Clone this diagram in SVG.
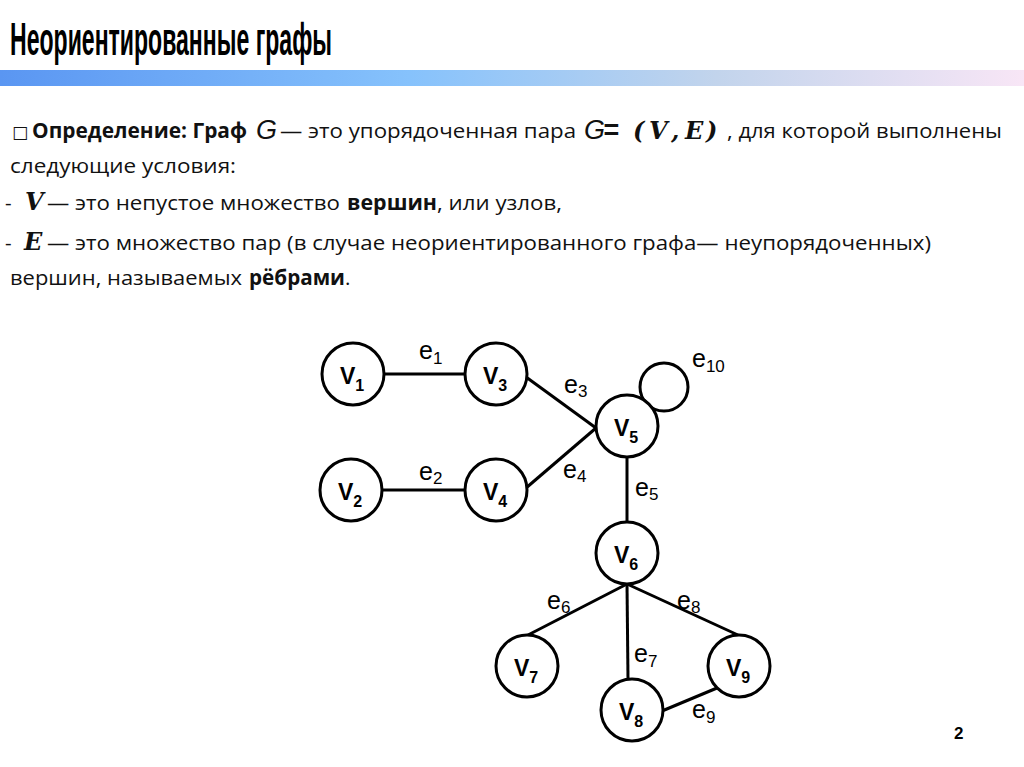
<svg xmlns="http://www.w3.org/2000/svg" width="1024" height="767" viewBox="0 0 1024 767">
<defs>
<linearGradient id="bar" x1="0" y1="0" x2="1" y2="0">
<stop offset="0" stop-color="#5a96f2"/>
<stop offset="0.4" stop-color="#86c2fc"/>
<stop offset="0.7" stop-color="#c2d4ec"/>
<stop offset="1" stop-color="#f8e6f6"/>
</linearGradient>
</defs>
<style>
.body{font-family:"Open Sans","Liberation Sans",sans-serif;font-size:20.5px;fill:#111}
.b{font-weight:bold}
.it{font-family:"Liberation Sans",Arial,sans-serif;font-style:italic;font-size:27px;fill:#111}
.math{font-family:"DejaVu Serif","Liberation Serif",serif;font-weight:bold;font-style:italic;font-size:24px;fill:#111}
.node circle{fill:#fff;stroke:#000;stroke-width:3}
.vl{font-family:"Liberation Sans",Arial,sans-serif;font-weight:bold;font-size:23px;fill:#000}
.vs{font-size:16px}
.el{font-family:"Liberation Sans",Arial,sans-serif;font-size:25px;fill:#000}
.es{font-size:17px}
#edges line,#edges circle{stroke:#000;stroke-width:3;fill:none}
</style>
<rect width="1024" height="767" fill="#fff"/>
<text x="10" y="55" font-family="Liberation Sans,Arial,sans-serif" font-weight="bold" font-size="46" textLength="322" lengthAdjust="spacingAndGlyphs" fill="#000">Неориентированные графы</text>
<rect x="0" y="70" width="1024" height="16" fill="url(#bar)"/>

<g id="definition">
<text x="12" y="138" font-family="DejaVu Sans,sans-serif" font-size="17" fill="#111">□</text>
<text class="body b" x="32" y="138" textLength="215" lengthAdjust="spacingAndGlyphs">Определение: Граф</text>
<text class="it" x="256" y="139">G</text>
<text class="body" x="280" y="138" textLength="296" lengthAdjust="spacingAndGlyphs">— это упорядоченная пара</text>
<text class="it" x="584" y="139">G<tspan font-weight="bold" x="603">=</tspan></text>
<text class="math" x="633 649 671 685 706" y="139">(V,E)</text>
<text class="body" x="727" y="138" textLength="275" lengthAdjust="spacingAndGlyphs">, для которой выполнены</text>
<text class="body" x="10" y="173" textLength="226" lengthAdjust="spacingAndGlyphs">следующие условия:</text>
<text class="body" x="5" y="210">-</text>
<text class="math" x="25" y="210">V</text>
<text class="body" x="47" y="210" textLength="293" lengthAdjust="spacingAndGlyphs">— это непустое множество</text>
<text class="body b" x="347" y="210" textLength="90" lengthAdjust="spacingAndGlyphs">вершин</text>
<text class="body" x="437" y="210" textLength="125" lengthAdjust="spacingAndGlyphs">, или узлов,</text>
<text class="body" x="5" y="250">-</text>
<text class="math" x="24" y="250">E</text>
<text class="body" x="47" y="250" textLength="884" lengthAdjust="spacingAndGlyphs">— это множество пар (в случае неориентированного графа— неупорядоченных)</text>
<text class="body" x="10" y="285" textLength="232" lengthAdjust="spacingAndGlyphs">вершин, называемых</text>
<text class="body b" x="249" y="285" textLength="96" lengthAdjust="spacingAndGlyphs">рёбрами</text>
<text class="body" x="345" y="285">.</text>
</g>

<g id="edges">
<line x1="383" y1="374" x2="465" y2="374"/>
<line x1="381" y1="490" x2="465" y2="490"/>
<line x1="526" y1="377" x2="596" y2="428"/>
<line x1="526" y1="488" x2="596" y2="428"/>
<line x1="627" y1="457" x2="627" y2="522"/>
<line x1="627" y1="584" x2="528" y2="635"/>
<line x1="627" y1="584" x2="628" y2="679"/>
<line x1="627" y1="584" x2="738" y2="635"/>
<line x1="662" y1="711" x2="717" y2="688"/>
<circle cx="664" cy="387" r="24"/>
<text class="el" x="419" y="359">e<tspan class="es" dy="5">1</tspan></text>
<text class="el" x="419" y="480">e<tspan class="es" dy="4">2</tspan></text>
<text class="el" x="564" y="393">e<tspan class="es" dy="4">3</tspan></text>
<text class="el" x="563" y="478">e<tspan class="es" dy="4">4</tspan></text>
<text class="el" x="635" y="496">e<tspan class="es" dy="4">5</tspan></text>
<text class="el" x="547" y="609">e<tspan class="es" dy="4">6</tspan></text>
<text class="el" x="634" y="662">e<tspan class="es" dy="5">7</tspan></text>
<text class="el" x="677" y="609">e<tspan class="es" dy="4">8</tspan></text>
<text class="el" x="692" y="718">e<tspan class="es" dy="5">9</tspan></text>
<text class="el" x="692" y="367">e<tspan class="es" dy="5">10</tspan></text>
</g>

<g id="v1" class="node"><circle cx="353" cy="374" r="31"/><text class="vl" x="340" y="384">V<tspan class="vs" dy="7">1</tspan></text></g>
<g id="v2" class="node"><circle cx="351" cy="490" r="31"/><text class="vl" x="338" y="500">V<tspan class="vs" dy="7">2</tspan></text></g>
<g id="v3" class="node"><circle cx="496" cy="374" r="31"/><text class="vl" x="483" y="384">V<tspan class="vs" dy="7">3</tspan></text></g>
<g id="v4" class="node"><circle cx="496" cy="490" r="31"/><text class="vl" x="483" y="500">V<tspan class="vs" dy="7">4</tspan></text></g>
<g id="v5" class="node"><circle cx="627" cy="426" r="31"/><text class="vl" x="614" y="436">V<tspan class="vs" dy="7">5</tspan></text></g>
<g id="v6" class="node"><circle cx="627" cy="553" r="31"/><text class="vl" x="614" y="563">V<tspan class="vs" dy="7">6</tspan></text></g>
<g id="v7" class="node"><circle cx="527" cy="666" r="31"/><text class="vl" x="514" y="676">V<tspan class="vs" dy="7">7</tspan></text></g>
<g id="v8" class="node"><circle cx="632" cy="710" r="31"/><text class="vl" x="619" y="720">V<tspan class="vs" dy="7">8</tspan></text></g>
<g id="v9" class="node"><circle cx="739" cy="666" r="31"/><text class="vl" x="726" y="676">V<tspan class="vs" dy="7">9</tspan></text></g>

<text x="954" y="739" font-family="Liberation Sans,Arial,sans-serif" font-weight="bold" font-size="17" fill="#000">2</text>
</svg>
